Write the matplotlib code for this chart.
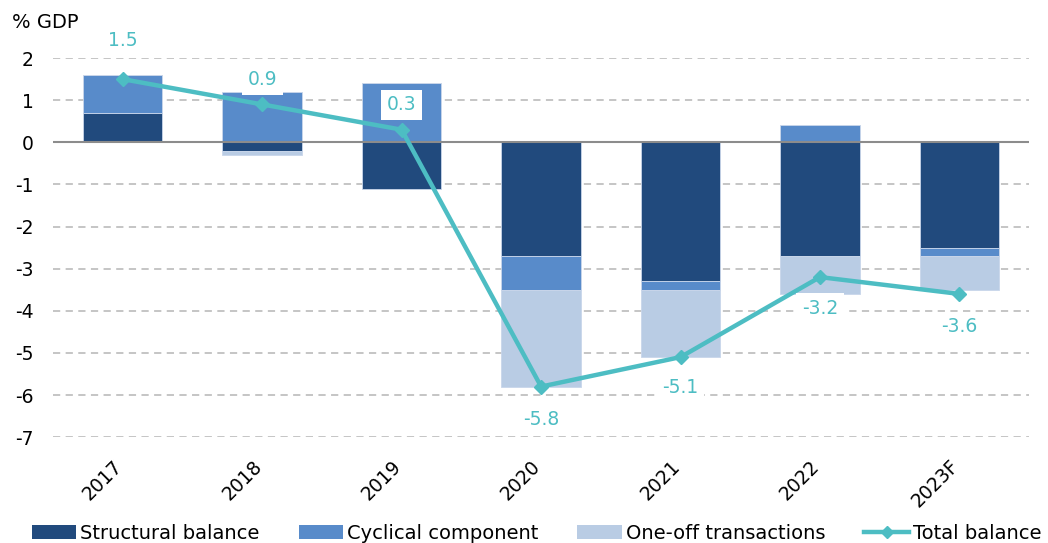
import numpy as np
import matplotlib
matplotlib.use("Agg")
import matplotlib.pyplot as plt
import matplotlib.transforms as mtransforms
from matplotlib.lines import Line2D
from matplotlib.patches import Patch

# data (% GDP)
years = ["2017", "2018", "2019", "2020", "2021", "2022", "2023F"]
structural = [0.7, -0.2, -1.1, -2.7, -3.3, -2.7, -2.5]
cyclical = [0.9, 1.2, 1.4, -0.8, -0.2, 0.4, -0.2]
one_off = [0.0, -0.1, 0.0, -2.3, -1.6, -0.9, -0.8]
total = [1.5, 0.9, 0.3, -5.8, -5.1, -3.2, -3.6]

# vertical offset of each value label from its point, in pixels
label_off = [39, 25, 25, -33, -30, -31, -33]

c_struct = "#214a7d"
c_cycl = "#588bca"
c_oneoff = "#b9cce4"
c_total = "#4dbdc3"

plt.rcParams["font.family"] = "DejaVu Sans"
plt.rcParams["axes.unicode_minus"] = False

fig = plt.figure(figsize=(10.48, 5.43), dpi=100)
ax = fig.add_axes([0.0506, 0.195, 0.9314, 0.698])

x = np.arange(len(years))
pos = np.zeros(len(years))
neg = np.zeros(len(years))
for vals, col in [(structural, c_struct), (cyclical, c_cycl), (one_off, c_oneoff)]:
    vals = np.array(vals)
    bottoms = np.where(vals >= 0, pos, neg)
    ax.bar(x, vals, bottom=bottoms, width=0.57, color=col,
           edgecolor="#c9d6ea", linewidth=0.6, zorder=2)
    pos = pos + np.where(vals >= 0, vals, 0)
    neg = neg + np.where(vals < 0, vals, 0)

# grid
for v in range(-7, 3):
    if v == 0:
        continue
    ax.axhline(v, color="#c0c0c0", lw=1.3, ls=(0, (4, 3)), zorder=1)
ax.axhline(0, color="#8c8c8c", lw=1.5, zorder=3)

ax.plot(x, total, color=c_total, lw=3.2, marker="D", markersize=7, zorder=4)

for i, v in enumerate(total):
    ax.annotate(f"{v:.1f}", (x[i], v), xytext=(0, label_off[i] * 0.72),
                textcoords="offset points", ha="center", va="center",
                fontsize=13.5, color=c_total, zorder=5,
                bbox=dict(boxstyle="square,pad=0.3", fc="white", ec="none"))

ax.set_xlim(-0.5, len(years) - 0.5)
ax.set_ylim(-7, 2)
ax.set_yticks(range(-7, 3))
ax.set_xticks(x)
ax.set_xticklabels(years, rotation=45, ha="right", rotation_mode="anchor")
ax.tick_params(axis="both", length=0, labelsize=13.5)
ax.tick_params(axis="y", pad=14)
ax.tick_params(axis="x", pad=14)
shift = mtransforms.ScaledTranslation(-10 / 100, 0, fig.dpi_scale_trans)
for lab in ax.get_xticklabels():
    lab.set_transform(lab.get_transform() + shift)
for s in ax.spines.values():
    s.set_visible(False)

fig.text(0.011, 1 - 22 / 543, "% GDP", fontsize=14, va="center", ha="left")

handles = [
    Patch(facecolor=c_struct, edgecolor="none"),
    Patch(facecolor=c_cycl, edgecolor="none"),
    Patch(facecolor=c_oneoff, edgecolor="none"),
    Line2D([0], [0], color=c_total, lw=3.2, marker="D", markersize=6),
]
labels = ["Structural balance", "Cyclical component", "One-off transactions", "Total balance"]
fig.legend(handles, labels, loc="center", bbox_to_anchor=(0.512, 0.018), ncol=4,
           frameon=False, fontsize=14, handlelength=2.3, handletextpad=0.2,
           columnspacing=2.0, handleheight=0.75, borderaxespad=0, borderpad=0)

fig.savefig("out.png", dpi=100)
